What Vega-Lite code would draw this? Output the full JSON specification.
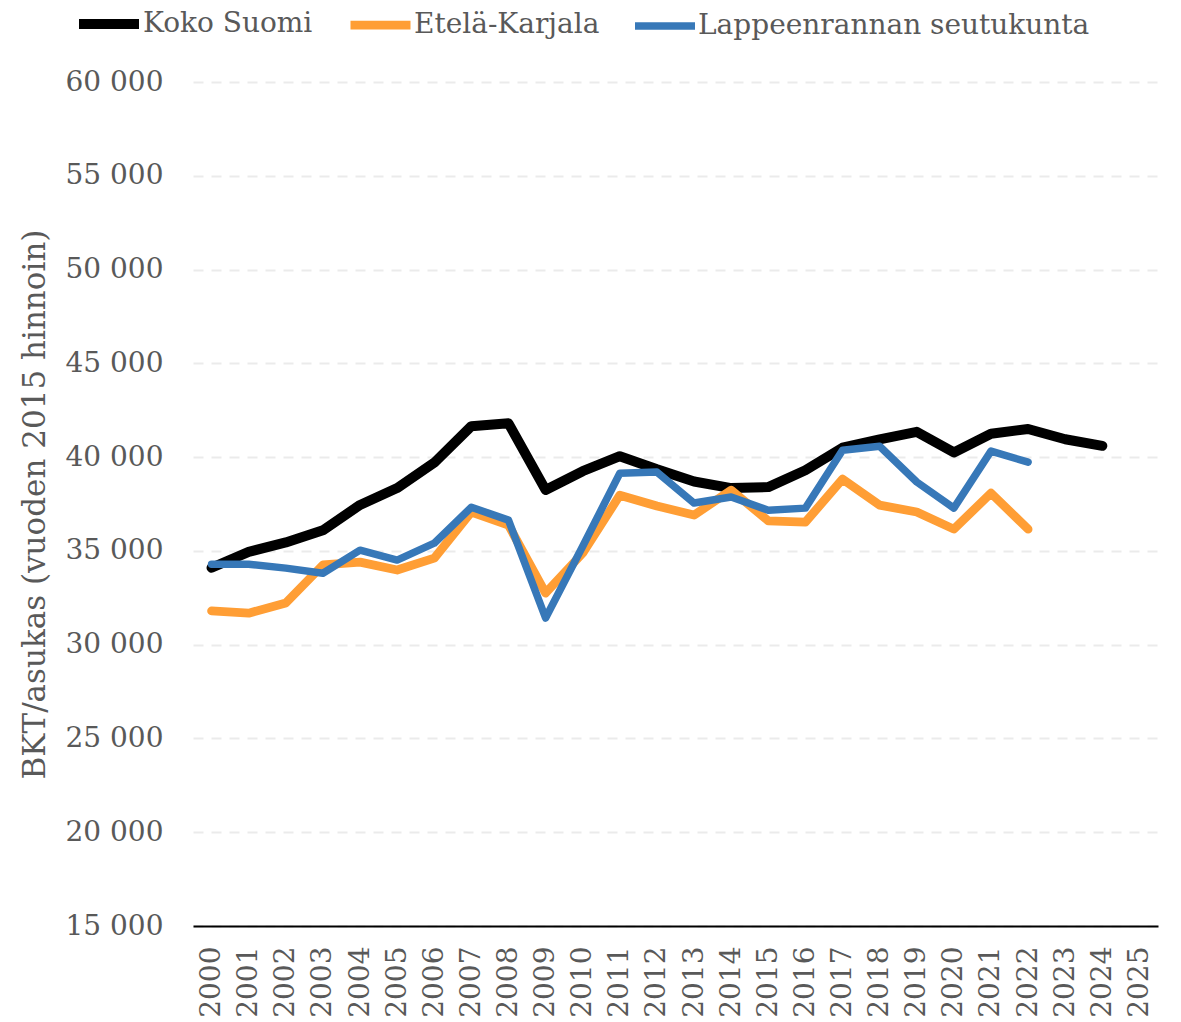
{
  "$schema": "https://vega.github.io/schema/vega-lite/v6.json",
  "width": 965,
  "height": 844,
  "autosize": {"type": "none"},
  "padding": {"left": 193, "top": 82, "right": 23, "bottom": 96},
  "background": "white",
  "config": {"font": "DejaVu Serif", "view": {"stroke": null}},
  "data": {"values": [
    {"alue": "Koko Suomi", "vuosi": 2000, "bkt": 34100},
    {"alue": "Koko Suomi", "vuosi": 2001, "bkt": 34950},
    {"alue": "Koko Suomi", "vuosi": 2002, "bkt": 35450},
    {"alue": "Koko Suomi", "vuosi": 2003, "bkt": 36100},
    {"alue": "Koko Suomi", "vuosi": 2004, "bkt": 37450},
    {"alue": "Koko Suomi", "vuosi": 2005, "bkt": 38350},
    {"alue": "Koko Suomi", "vuosi": 2006, "bkt": 39700},
    {"alue": "Koko Suomi", "vuosi": 2007, "bkt": 41650},
    {"alue": "Koko Suomi", "vuosi": 2008, "bkt": 41800},
    {"alue": "Koko Suomi", "vuosi": 2009, "bkt": 38250},
    {"alue": "Koko Suomi", "vuosi": 2010, "bkt": 39250},
    {"alue": "Koko Suomi", "vuosi": 2011, "bkt": 40050},
    {"alue": "Koko Suomi", "vuosi": 2012, "bkt": 39350},
    {"alue": "Koko Suomi", "vuosi": 2013, "bkt": 38700},
    {"alue": "Koko Suomi", "vuosi": 2014, "bkt": 38350},
    {"alue": "Koko Suomi", "vuosi": 2015, "bkt": 38400},
    {"alue": "Koko Suomi", "vuosi": 2016, "bkt": 39300},
    {"alue": "Koko Suomi", "vuosi": 2017, "bkt": 40500},
    {"alue": "Koko Suomi", "vuosi": 2018, "bkt": 40950},
    {"alue": "Koko Suomi", "vuosi": 2019, "bkt": 41350},
    {"alue": "Koko Suomi", "vuosi": 2020, "bkt": 40250},
    {"alue": "Koko Suomi", "vuosi": 2021, "bkt": 41250},
    {"alue": "Koko Suomi", "vuosi": 2022, "bkt": 41500},
    {"alue": "Koko Suomi", "vuosi": 2023, "bkt": 40950},
    {"alue": "Koko Suomi", "vuosi": 2024, "bkt": 40600},
    {"alue": "Etelä-Karjala", "vuosi": 2000, "bkt": 31800},
    {"alue": "Etelä-Karjala", "vuosi": 2001, "bkt": 31680},
    {"alue": "Etelä-Karjala", "vuosi": 2002, "bkt": 32220},
    {"alue": "Etelä-Karjala", "vuosi": 2003, "bkt": 34250},
    {"alue": "Etelä-Karjala", "vuosi": 2004, "bkt": 34400},
    {"alue": "Etelä-Karjala", "vuosi": 2005, "bkt": 33980},
    {"alue": "Etelä-Karjala", "vuosi": 2006, "bkt": 34610},
    {"alue": "Etelä-Karjala", "vuosi": 2007, "bkt": 37070},
    {"alue": "Etelä-Karjala", "vuosi": 2008, "bkt": 36370},
    {"alue": "Etelä-Karjala", "vuosi": 2009, "bkt": 32750},
    {"alue": "Etelä-Karjala", "vuosi": 2010, "bkt": 34880},
    {"alue": "Etelä-Karjala", "vuosi": 2011, "bkt": 37970},
    {"alue": "Etelä-Karjala", "vuosi": 2012, "bkt": 37390},
    {"alue": "Etelä-Karjala", "vuosi": 2013, "bkt": 36910},
    {"alue": "Etelä-Karjala", "vuosi": 2014, "bkt": 38240},
    {"alue": "Etelä-Karjala", "vuosi": 2015, "bkt": 36600},
    {"alue": "Etelä-Karjala", "vuosi": 2016, "bkt": 36530},
    {"alue": "Etelä-Karjala", "vuosi": 2017, "bkt": 38830},
    {"alue": "Etelä-Karjala", "vuosi": 2018, "bkt": 37440},
    {"alue": "Etelä-Karjala", "vuosi": 2019, "bkt": 37070},
    {"alue": "Etelä-Karjala", "vuosi": 2020, "bkt": 36160},
    {"alue": "Etelä-Karjala", "vuosi": 2021, "bkt": 38080},
    {"alue": "Etelä-Karjala", "vuosi": 2022, "bkt": 36160},
    {"alue": "Lappeenrannan seutukunta", "vuosi": 2000, "bkt": 34290},
    {"alue": "Lappeenrannan seutukunta", "vuosi": 2001, "bkt": 34290},
    {"alue": "Lappeenrannan seutukunta", "vuosi": 2002, "bkt": 34080},
    {"alue": "Lappeenrannan seutukunta", "vuosi": 2003, "bkt": 33810},
    {"alue": "Lappeenrannan seutukunta", "vuosi": 2004, "bkt": 35040},
    {"alue": "Lappeenrannan seutukunta", "vuosi": 2005, "bkt": 34510},
    {"alue": "Lappeenrannan seutukunta", "vuosi": 2006, "bkt": 35410},
    {"alue": "Lappeenrannan seutukunta", "vuosi": 2007, "bkt": 37330},
    {"alue": "Lappeenrannan seutukunta", "vuosi": 2008, "bkt": 36640},
    {"alue": "Lappeenrannan seutukunta", "vuosi": 2009, "bkt": 31420},
    {"alue": "Lappeenrannan seutukunta", "vuosi": 2010, "bkt": 35250},
    {"alue": "Lappeenrannan seutukunta", "vuosi": 2011, "bkt": 39140},
    {"alue": "Lappeenrannan seutukunta", "vuosi": 2012, "bkt": 39200},
    {"alue": "Lappeenrannan seutukunta", "vuosi": 2013, "bkt": 37550},
    {"alue": "Lappeenrannan seutukunta", "vuosi": 2014, "bkt": 37870},
    {"alue": "Lappeenrannan seutukunta", "vuosi": 2015, "bkt": 37170},
    {"alue": "Lappeenrannan seutukunta", "vuosi": 2016, "bkt": 37280},
    {"alue": "Lappeenrannan seutukunta", "vuosi": 2017, "bkt": 40370},
    {"alue": "Lappeenrannan seutukunta", "vuosi": 2018, "bkt": 40580},
    {"alue": "Lappeenrannan seutukunta", "vuosi": 2019, "bkt": 38670},
    {"alue": "Lappeenrannan seutukunta", "vuosi": 2020, "bkt": 37280},
    {"alue": "Lappeenrannan seutukunta", "vuosi": 2021, "bkt": 40320},
    {"alue": "Lappeenrannan seutukunta", "vuosi": 2022, "bkt": 39730}
  ]},
  "mark": {"type": "line", "strokeCap": "round", "strokeJoin": "round"},
  "encoding": {
    "x": {
      "field": "vuosi", "type": "ordinal",
      "scale": {"type": "point", "padding": 0.5, "domain": [2000,2001,2002,2003,2004,2005,2006,2007,2008,2009,2010,2011,2012,2013,2014,2015,2016,2017,2018,2019,2020,2021,2022,2023,2024,2025]},
      "axis": {"title": null, "labelAngle": -90, "labelAlign": "right", "labelBaseline": "middle", "labelFontSize": 28, "labelColor": "#595959", "labelPadding": 20, "ticks": false, "domainColor": "#000000", "domainWidth": 2, "grid": false, "labelOverlap": false, "labelFlush": false}
    },
    "y": {
      "field": "bkt", "type": "quantitative",
      "scale": {"domain": [15000, 60000], "nice": false, "zero": false},
      "axis": {"title": "BKT/asukas (vuoden 2015 hinnoin)", "titleFontSize": 31, "titleFontWeight": "normal", "titleColor": "#595959", "titlePadding": 14, "values": [15000,20000,25000,30000,35000,40000,45000,50000,55000,60000], "labelExpr": "replace(format(datum.value, ',d'), ',', ' ')", "labelFontSize": 28, "labelColor": "#595959", "labelPadding": 30, "ticks": false, "domain": false, "grid": true, "gridColor": "#ebebeb", "gridWidth": 2, "gridDash": [10, 8]}
    },
    "color": {
      "field": "alue", "type": "nominal",
      "scale": {"domain": ["Koko Suomi", "Etelä-Karjala", "Lappeenrannan seutukunta"], "range": ["#000000", "#FF9E35", "#3778B8"]},
      "legend": {"title": null, "orient": "none", "legendX": -119, "legendY": -93, "direction": "horizontal", "symbolType": "stroke", "symbolSize": 3600, "labelFontSize": 28, "labelColor": "#595959", "labelOffset": -1, "labelLimit": 600, "columnPadding": 20}
    },
    "strokeWidth": {
      "field": "alue", "type": "nominal",
      "scale": {"domain": ["Koko Suomi", "Etelä-Karjala", "Lappeenrannan seutukunta"], "range": [10, 7.5, 7.5]},
      "legend": {"title": null, "orient": "none", "legendX": -119, "legendY": -93, "direction": "horizontal", "symbolType": "stroke", "symbolSize": 3600, "labelFontSize": 28, "labelColor": "#595959", "labelOffset": -1, "labelLimit": 600, "columnPadding": 20}
    }
  }
}
